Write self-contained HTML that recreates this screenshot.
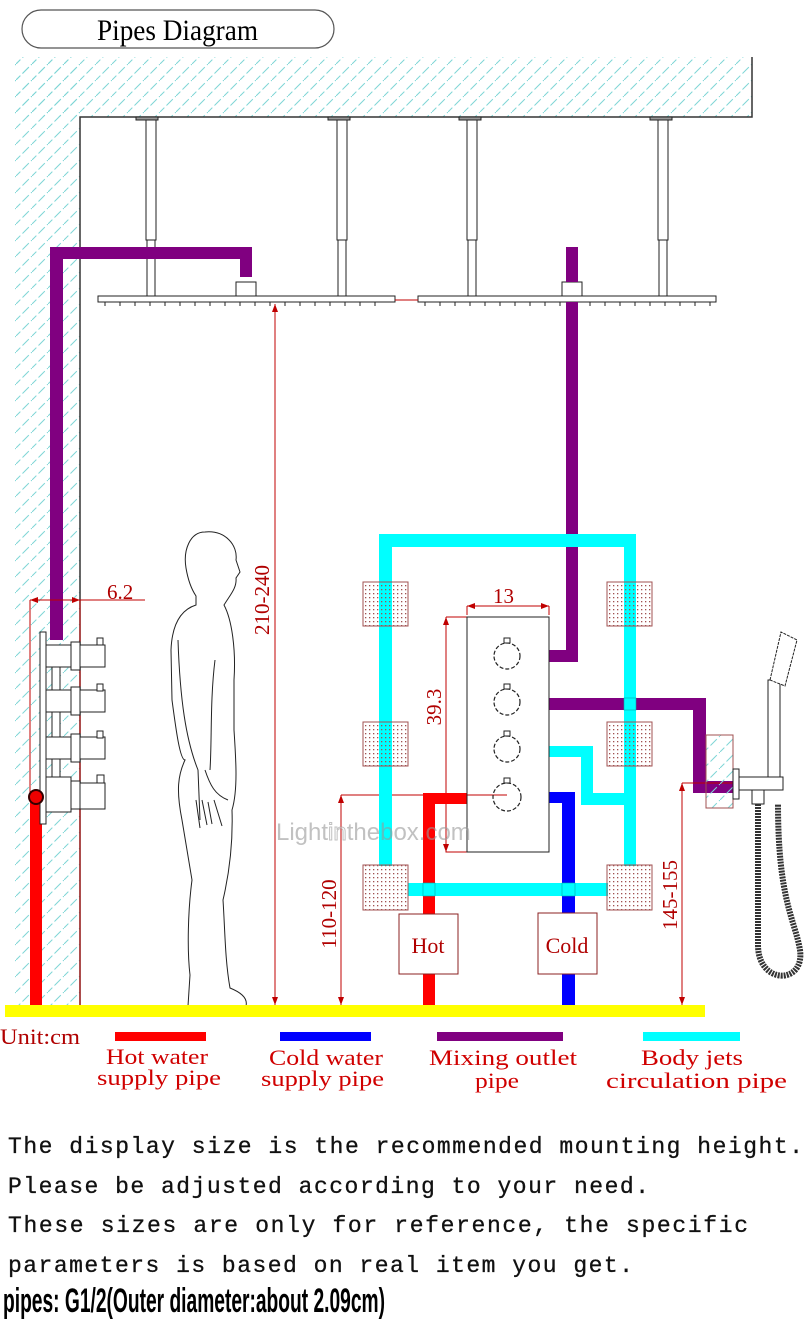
<!DOCTYPE html>
<html><head><meta charset="utf-8"><style>
html,body{margin:0;padding:0;background:#fff;}
svg{display:block;}
</style></head><body>
<svg width="810" height="1336" viewBox="0 0 810 1336" xmlns="http://www.w3.org/2000/svg">
<defs>
<pattern id="h" width="16" height="16" patternUnits="userSpaceOnUse">
<path d="M-2,18 L18,-2" stroke="#7fd6d6" stroke-width="1" stroke-dasharray="9,3"/>
</pattern>
<pattern id="dots" width="4" height="4" patternUnits="userSpaceOnUse">
<rect x="1" y="1" width="1.3" height="1.3" fill="#a05050"/>
</pattern>
</defs>
<rect width="810" height="1336" fill="#fff"/>
<!-- title -->
<rect x="22" y="10" width="312" height="38" rx="19" fill="#fff" stroke="#555" stroke-width="1.2"/>
<text x="97" y="40" font-family="Liberation Serif, serif" font-size="30" textLength="161" lengthAdjust="spacingAndGlyphs">Pipes Diagram</text>
<!-- walls -->
<rect x="15" y="57" width="737" height="60" fill="url(#h)"/>
<rect x="15" y="57" width="65" height="948" fill="url(#h)"/>
<path d="M80,1005 V117 H752 V57" fill="none" stroke="#333" stroke-width="1.5"/>
<!-- rods -->
<g fill="#fff" stroke="#222" stroke-width="1">
<rect x="136" y="117" width="22" height="3" fill="#999"/><rect x="328" y="117" width="22" height="3" fill="#999"/><rect x="459" y="117" width="22" height="3" fill="#999"/><rect x="650" y="117" width="22" height="3" fill="#999"/>
<rect x="146" y="120" width="10" height="120"/><rect x="337" y="120" width="10" height="120"/><rect x="467" y="120" width="10" height="120"/><rect x="658" y="120" width="10" height="120"/>
<rect x="147" y="240" width="8" height="56"/><rect x="338" y="240" width="8" height="56"/><rect x="468" y="240" width="8" height="56"/><rect x="659" y="240" width="8" height="56"/>
<rect x="98" y="296" width="297" height="6"/><rect x="418" y="296" width="298" height="6"/>
<rect x="236" y="282" width="20" height="14"/><rect x="562" y="282" width="20" height="14"/>
</g>
<g stroke="#222" stroke-width="1">
<path d="M105,302v4M120,302v4M135,302v4M150,302v4M165,302v4M180,302v4M195,302v4M210,302v4M225,302v4M240,302v4M255,302v4M270,302v4M285,302v4M300,302v4M315,302v4M330,302v4M345,302v4M360,302v4M375,302v4M425,302v4M440,302v4M455,302v4M470,302v4M485,302v4M500,302v4M515,302v4M530,302v4M545,302v4M560,302v4M590,302v4M605,302v4M620,302v4M635,302v4M650,302v4M665,302v4M680,302v4M695,302v4M710,302v4"/>
</g>
<!-- purple pipes -->
<g fill="#800080">
<rect x="50" y="247" width="13" height="393"/>
<rect x="50" y="247" width="202" height="12"/>
<rect x="240" y="247" width="12" height="30"/>
<rect x="566" y="247" width="12" height="35"/>
<rect x="566" y="302" width="12" height="360"/>
<rect x="549" y="650" width="29" height="12"/>
<rect x="549" y="698" width="157" height="12"/>
<rect x="693" y="698" width="13" height="95"/>
<rect x="693" y="781" width="42" height="12"/>
</g>
<!-- red dim lines -->
<g stroke="#c00000" stroke-width="1" fill="none">
<path d="M395,300 H418"/>
<path d="M275,304 V1005"/>
<path d="M30,600 H145 M30,600 V800 M80,600 V1005"/>
<path d="M467,606 H549 M467,606 V615 M549,606 V615"/>
<path d="M446,617 H467 M446,617 V852 H467"/>
<path d="M341,795 H507 M341,795 V1005"/>
<path d="M682,783 H735 M682,783 V1005"/>
</g>
<g fill="#c00000">
<path d="M275,304 l-3,8 h6z M275,1005 l-3,-8 h6z M30,600 l8,-3 v6z M80,600 l-8,-3 v6z M467,606 l8,-3 v6z M549,606 l-8,-3 v6z M446,617 l-3,8 h6z M446,852 l-3,-8 h6z M341,795 l-3,8 h6z M341,1005 l-3,-8 h6z M682,783 l-3,8 h6z M682,1005 l-3,-8 h6z"/>
</g>
<g font-family="Liberation Serif, serif" fill="#b00000" font-size="21">
<text x="107" y="599">6.2</text>
<text x="493" y="603">13</text>
<text transform="translate(269,600) rotate(-90)" text-anchor="middle">210-240</text>
<text transform="translate(441,707) rotate(-90)" text-anchor="middle">39.3</text>
<text transform="translate(336,914) rotate(-90)" text-anchor="middle">110-120</text>
<text transform="translate(677,895) rotate(-90)" text-anchor="middle">145-155</text>
</g>
<!-- cyan loop -->
<g fill="#00ffff">
<rect x="379" y="534" width="257" height="13"/>
<rect x="379" y="534" width="13" height="332"/>
<rect x="624" y="534" width="12" height="332"/>
<rect x="408" y="883" width="200" height="13"/>
<rect x="549" y="746" width="44" height="11"/>
<rect x="581" y="746" width="12" height="59"/>
<rect x="581" y="793" width="43" height="12"/>
</g>
<!-- red / blue supply -->
<g>
<rect x="423" y="793" width="44" height="11" fill="#ff0000"/>
<rect x="423" y="793" width="12" height="212" fill="#ff0000"/>
<rect x="549" y="792" width="26" height="11" fill="#0000ff"/>
<rect x="562" y="792" width="13" height="213" fill="#0000ff"/>
<rect x="30" y="800" width="12" height="205" fill="#ff0000"/>
<rect x="423" y="883" width="12" height="13" fill="#00ffff" stroke="#0aa" stroke-width="0.6"/>
<rect x="562" y="883" width="13" height="13" fill="#00ffff" stroke="#0aa" stroke-width="0.6"/>
<rect x="624" y="698" width="12" height="12" fill="#00ffff" stroke="#0aa" stroke-width="0.6"/>
</g>
<!-- body jets -->
<g stroke="#a05050" stroke-width="1">
<rect x="363" y="582" width="45" height="44" fill="url(#dots)"/>
<rect x="363" y="722" width="45" height="44" fill="url(#dots)"/>
<rect x="363" y="865" width="45" height="45" fill="url(#dots)"/>
<rect x="607" y="582" width="45" height="44" fill="url(#dots)"/>
<rect x="607" y="722" width="45" height="44" fill="url(#dots)"/>
<rect x="607" y="865" width="45" height="45" fill="url(#dots)"/>
</g>
<!-- valve -->
<rect x="467" y="617" width="82" height="235" fill="none" stroke="#222" stroke-width="1"/>
<g fill="none" stroke="#222" stroke-width="1.2" stroke-dasharray="4,2">
<circle cx="507" cy="656" r="13"/><circle cx="507" cy="702" r="13"/><circle cx="507" cy="749" r="13"/><circle cx="507" cy="797" r="14"/>
</g>
<g fill="#fff" stroke="#222"><rect x="504" y="638" width="6" height="5"/><rect x="504" y="684" width="6" height="5"/><rect x="504" y="731" width="6" height="5"/><rect x="504" y="778" width="6" height="5"/></g>
<!-- hot cold boxes -->
<rect x="399" y="914" width="59" height="60" fill="#fff" stroke="#8b2020"/>
<rect x="538" y="913" width="59" height="61" fill="#fff" stroke="#8b2020"/>
<g font-family="Liberation Serif, serif" fill="#b00000" font-size="22" text-anchor="middle">
<text x="428" y="953">Hot</text><text x="567" y="953">Cold</text>
</g>
<!-- left valve -->
<g fill="#fff" stroke="#222" stroke-width="1">
<rect x="40" y="632" width="6" height="192"/>
<rect x="46" y="645" width="25" height="22"/><rect x="71" y="642" width="9" height="28"/><rect x="80" y="645" width="25" height="22"/><rect x="97" y="638" width="6" height="7"/>
<rect x="46" y="690" width="25" height="22"/><rect x="71" y="687" width="9" height="28"/><rect x="80" y="690" width="25" height="22"/><rect x="97" y="684" width="6" height="7"/>
<rect x="46" y="737" width="25" height="22"/><rect x="71" y="734" width="9" height="28"/><rect x="80" y="737" width="25" height="22"/><rect x="97" y="731" width="6" height="7"/>
<rect x="46" y="777" width="25" height="35"/><rect x="71" y="781" width="9" height="28"/><rect x="80" y="783" width="25" height="26"/><rect x="97" y="775" width="7" height="8"/>
<rect x="52" y="667" width="8" height="23"/><rect x="52" y="712" width="8" height="25"/><rect x="52" y="759" width="8" height="18"/>
</g>
<circle cx="36" cy="797" r="7" fill="#e00" stroke="#300" stroke-width="2"/>
<!-- person -->
<g fill="none" stroke="#222" stroke-width="1">
<path d="M205,532 C190,532 183,550 186,568 C188,580 192,590 196,596 L196,605 C180,610 172,625 171,650 L172,700 C176,730 180,760 185,760 C178,775 176,790 182,820 L192,880 C188,910 187,950 190,975 L188,1006 L246,1006 C248,998 240,992 230,988 C225,960 225,930 223,900 C230,870 233,840 232,810 C238,790 236,760 234,730 L234,680 C236,650 232,620 224,605 C230,595 237,588 236,578 L240,572 L236,560 C238,545 225,530 205,532 Z"/>
<path d="M178,640 C180,700 186,740 198,770 L200,820 M205,770 C210,785 215,795 228,800 M215,660 C210,700 212,740 210,770"/>
<path d="M196,800 l4,28 M202,800 l5,25 M208,802 l4,22 M214,800 l8,26"/>
</g>
<!-- handshower -->
<g fill="#fff" stroke="#222" stroke-width="1">
<rect x="706" y="735" width="27" height="73" fill="url(#h)" stroke="#a05050"/>
<rect x="733" y="769" width="6" height="30"/>
<rect x="739" y="777" width="44" height="13"/>
<rect x="768" y="680" width="12" height="97"/>
<path d="M770,680 L781,632 L797,640 L785,686 Z" stroke-dasharray="3,1"/>
<rect x="752" y="790" width="12" height="14"/>
</g>
<path d="M758,804 V945 C758,985 805,985 800,950 C795,920 778,900 778,804" fill="none" stroke="#333" stroke-width="6" stroke-dasharray="2,1"/>
<!-- floor -->
<rect x="5" y="1005" width="700" height="12" fill="#ffff00"/>
<!-- watermark -->
<text x="276" y="840" font-family="Liberation Sans, sans-serif" font-size="24" fill="#999" opacity="0.6">Light<tspan fill="#fff" stroke="#999">in</tspan>thebox.com</text>
<!-- legend -->
<g font-family="Liberation Serif, serif" fill="#d00000" font-size="22" lengthAdjust="spacingAndGlyphs">
<text x="0" y="1044" fill="#b00000" textLength="80" lengthAdjust="spacingAndGlyphs">Unit:cm</text>
<rect x="115" y="1032" width="91" height="9" fill="#ff0000"/>
<rect x="280" y="1032" width="91" height="9" fill="#0000ff"/>
<rect x="437" y="1032" width="126" height="9" fill="#800080"/>
<rect x="643" y="1032" width="97" height="9" fill="#00ffff"/>
<text x="106" y="1064" textLength="102" lengthAdjust="spacingAndGlyphs">Hot water</text>
<text x="97" y="1085" textLength="124" lengthAdjust="spacingAndGlyphs">supply pipe</text>
<text x="269" y="1065" textLength="114" lengthAdjust="spacingAndGlyphs">Cold water</text>
<text x="261" y="1086" textLength="123" lengthAdjust="spacingAndGlyphs">supply pipe</text>
<text x="429" y="1065" textLength="148" lengthAdjust="spacingAndGlyphs">Mixing outlet</text>
<text x="475" y="1088" textLength="44" lengthAdjust="spacingAndGlyphs">pipe</text>
<text x="641" y="1065" textLength="102" lengthAdjust="spacingAndGlyphs">Body jets</text>
<text x="606" y="1088" textLength="181" lengthAdjust="spacingAndGlyphs">circulation pipe</text>
</g>
<g font-family="Liberation Mono, monospace" font-size="23" fill="#111" stroke="#111" stroke-width="0.3">
<text x="8" y="1153" textLength="795" lengthAdjust="spacing">The display size is the recommended mounting height.</text>
<text x="8" y="1193" textLength="641" lengthAdjust="spacing">Please be adjusted according to your need.</text>
<text x="8" y="1232" textLength="740" lengthAdjust="spacing">These sizes are only for reference, the specific</text>
<text x="8" y="1272" textLength="625" lengthAdjust="spacing">parameters is based on real item you get.</text>
</g>
<text x="3" y="1312" font-family="Liberation Sans Narrow, Liberation Sans, sans-serif" font-size="34" font-weight="bold" fill="#000" textLength="382" lengthAdjust="spacingAndGlyphs">pipes: G1/2(Outer diameter:about 2.09cm)</text>
</svg>
</body></html>
